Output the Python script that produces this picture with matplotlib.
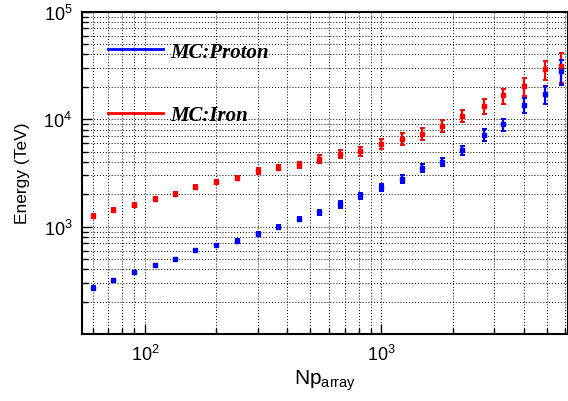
import numpy as np
import matplotlib
matplotlib.use("Agg")
import matplotlib.pyplot as plt
from matplotlib.lines import Line2D
from matplotlib.ticker import LogLocator, NullFormatter

# Np_array bin centres (same for both samples)
np_array = [60, 73.5, 89.8, 110, 134, 163, 200, 245, 299, 365, 446, 545,
            666, 815, 993, 1216, 1477, 1807, 2197, 2705, 3280, 4000, 4920, 5750]

# MC:Proton
proton_e = [269, 316, 375, 436, 497, 601, 673, 741, 863, 1000, 1188, 1360,
            1614, 1945, 2323, 2789, 3508, 4036, 5140, 7140, 8930, 13490, 17100, 28200]
proton_err = [9, 10, 12, 14, 16, 20, 22, 25, 28, 33, 51, 75,
              106, 128, 180, 250, 315, 365, 525, 900, 1120, 2160, 3360, 7500]

# MC:Iron
iron_e = [1268, 1429, 1589, 1808, 2031, 2339, 2587, 2837, 3299, 3548, 3751, 4285,
          4740, 5012, 5937, 6549, 7324, 8664, 10820, 13300, 16630, 20300, 29050, 31400]
iron_err = [55, 61, 68, 78, 87, 100, 111, 122, 180, 195, 250, 335,
            425, 450, 600, 820, 920, 1080, 1480, 2130, 2660, 3800, 6100, 9800]

plt.rcParams['font.family'] = ['Liberation Sans', 'DejaVu Sans']

fig = plt.figure(figsize=(5.68, 4.02), dpi=100)
ax = fig.add_axes([82 / 568, 67.3 / 402, 486 / 568, 322 / 402])

ax.errorbar(np_array, iron_e, yerr=iron_err, fmt='s', color='#ff0000',
            markersize=2.8, elinewidth=1.6, capsize=1.8, capthick=1.4, zorder=3)
ax.errorbar(np_array, proton_e, yerr=proton_err, fmt='s', color='#0000ff',
            markersize=2.8, elinewidth=1.6, capsize=1.8, capthick=1.4, zorder=3)

ax.set_xscale('log')
ax.set_yscale('log')
ax.set_xlim(54.1, 6150)
ax.set_ylim(101, 1e5)

ax.xaxis.set_minor_locator(LogLocator(base=10, subs=np.arange(2, 10)))
ax.yaxis.set_minor_locator(LogLocator(base=10, subs=np.arange(2, 10)))
ax.xaxis.set_minor_formatter(NullFormatter())
ax.yaxis.set_minor_formatter(NullFormatter())

ax.grid(which='both', color='black', linestyle=(0, (1, 2)), linewidth=0.7)
ax.tick_params(which='both', direction='in', top=False, right=False,
               labelsize=13, width=1)
ax.tick_params(which='major', length=7, pad=7)
ax.tick_params(which='minor', length=4)
for s in ax.spines.values():
    s.set_linewidth(1.5)

ax.set_xlabel(r'Np$_{\mathregular{array}}$', fontsize=15, labelpad=3)
ax.set_ylabel('Energy (TeV)', fontsize=12.5, labelpad=10)

handles = [Line2D([], [], color='#0000ff', lw=2),
           Line2D([], [], color='#ff0000', lw=2)]
ax.legend(handles, ['MC:Proton', 'MC:Iron'], loc='upper left',
          bbox_to_anchor=(0.015, 0.965), frameon=False, handlelength=2.65,
          handletextpad=0.33, labelspacing=2.1,
          prop={'family': 'Liberation Serif', 'weight': 'bold',
                'style': 'italic', 'size': 15})

fig.savefig('out.png', dpi=100)
